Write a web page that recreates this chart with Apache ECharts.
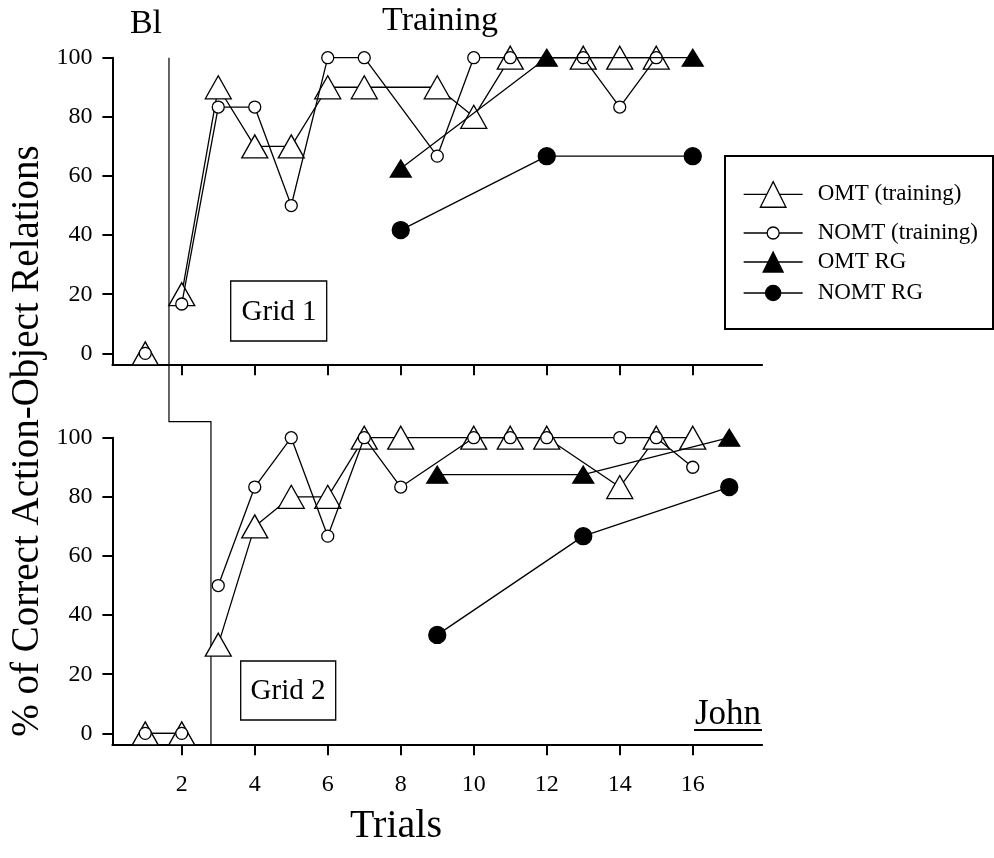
<!DOCTYPE html>
<html>
<head>
<meta charset="utf-8">
<script src="https://cdn.jsdelivr.net/npm/echarts@6/dist/echarts.min.js"></script>
<style>
  html, body { margin: 0; padding: 0; background: #fff; }
  #chart { width: 994px; height: 858px; }
</style>
</head>
<body>
<div id="chart"></div>
<script>
const FONT = "'Liberation Serif', 'Times New Roman', Times, serif";

// Grid 1 (upper panel)
const grid1OmtTrials = [1, 2, 3, 4, 5, 6, 7, 9, 10, 11, 13, 14, 15];
const grid1OmtValues = [0, 20, 90, 70, 70, 90, 90, 90, 80, 100, 100, 100, 100];
const grid1NomtTrials = [1, 2, 3, 4, 5, 6, 7, 9, 10, 11, 13, 14, 15];
const grid1NomtValues = [0, 16.7, 83.3, 83.3, 50, 100, 100, 66.7, 100, 100, 100, 83.3, 100];
const grid1RgTrials = [8, 12, 16];
const grid1OmtRgValues = [62.5, 100, 100];
const grid1NomtRgValues = [41.7, 66.7, 66.7];
const grid1PhaseChange = 1.65;

// Grid 2 (lower panel)
const grid2OmtTrials = [1, 2, 3, 4, 5, 6, 7, 8, 10, 11, 12, 14, 15, 16];
const grid2OmtValues = [0, 0, 30, 70, 80, 80, 100, 100, 100, 100, 100, 83.3, 100, 100];
const grid2NomtTrials = [1, 2, 3, 4, 5, 6, 7, 8, 10, 11, 12, 14, 15, 16];
const grid2NomtValues = [0, 0, 50, 83.3, 100, 66.7, 100, 83.3, 100, 100, 100, 100, 100, 90];
const grid2RgTrials = [9, 13, 17];
const grid2OmtRgValues = [87.5, 87.5, 100];
const grid2NomtRgValues = [33.3, 66.7, 83.3];
const grid2PhaseChange = 2.8;

// Axes
const xTicks = [2, 4, 6, 8, 10, 12, 14, 16];
const yTicks = [0, 20, 40, 60, 80, 100];
const xRange = [0.1, 17.9];
const yRange = [-3.7, 100];

// Pair trials with values; break the line where the phase changes.
function toPoints(trials, values, phase) {
  const out = [];
  for (let i = 0; i < trials.length; i++) {
    if (phase != null && i > 0 && trials[i - 1] < phase && trials[i] > phase) {
      out.push([phase, '-']);
    }
    out.push([trials[i], values[i]]);
  }
  return out;
}

const STYLE = {
  'OMT (training)': { symbol: 'triangle', size: [26, 23], fill: '#fff', z: 2 },
  'NOMT (training)': { symbol: 'circle', size: 12, fill: '#fff', z: 3 },
  'OMT RG': { symbol: 'triangle', size: [21, 17], fill: '#000', z: 4 },
  'NOMT RG': { symbol: 'circle', size: 17, fill: '#000', z: 5 }
};

function lineSeries(name, data, gi) {
  const s = STYLE[name];
  return {
    type: 'line', name, data,
    xAxisIndex: gi, yAxisIndex: gi,
    symbol: s.symbol, symbolSize: s.size, showAllSymbol: true,
    connectNulls: false, clip: false, z: s.z,
    lineStyle: { color: '#000', width: 1.3 },
    itemStyle: { color: s.fill, borderColor: '#000', borderWidth: 1.3, opacity: 1 },
    emphasis: { disabled: true },
    animation: false
  };
}

const series = [
  lineSeries('OMT (training)', toPoints(grid1OmtTrials, grid1OmtValues, grid1PhaseChange), 0),
  lineSeries('NOMT (training)', toPoints(grid1NomtTrials, grid1NomtValues, grid1PhaseChange), 0),
  lineSeries('OMT RG', toPoints(grid1RgTrials, grid1OmtRgValues, null), 0),
  lineSeries('NOMT RG', toPoints(grid1RgTrials, grid1NomtRgValues, null), 0),
  lineSeries('OMT (training)', toPoints(grid2OmtTrials, grid2OmtValues, grid2PhaseChange), 1),
  lineSeries('NOMT (training)', toPoints(grid2NomtTrials, grid2NomtValues, grid2PhaseChange), 1),
  lineSeries('OMT RG', toPoints(grid2RgTrials, grid2OmtRgValues, null), 1),
  lineSeries('NOMT RG', toPoints(grid2RgTrials, grid2NomtRgValues, null), 1)
];

function xAxis(gi) {
  return {
    type: 'value', gridIndex: gi, min: xRange[0], max: xRange[1],
    axisLine: { show: true, onZero: false, lineStyle: { color: '#000', width: 2 } },
    axisTick: { show: true, length: 11, customValues: xTicks, lineStyle: { color: '#000', width: 2 } },
    axisLabel: { show: gi === 1, customValues: xTicks, margin: 28, color: '#000', fontSize: 24, fontFamily: FONT },
    splitLine: { show: false }
  };
}
function yAxis(gi) {
  return {
    type: 'value', gridIndex: gi, min: yRange[0], max: yRange[1],
    axisLine: { show: true, onZero: false, lineStyle: { color: '#000', width: 2 } },
    axisTick: { show: true, length: 10, customValues: yTicks, lineStyle: { color: '#000', width: 2 } },
    axisLabel: { customValues: yTicks, margin: 20, color: '#000', fontSize: 24, fontFamily: FONT },
    splitLine: { show: false }
  };
}

// One legend block per row so each row keeps its own marker size.
const LEGEND_FONT = 23;
const legendRows = [
  { name: 'OMT (training)', cy: 197, h: 32 },
  { name: 'NOMT (training)', cy: 233, h: 15 },
  { name: 'OMT RG', cy: 263, h: 25 },
  { name: 'NOMT RG', cy: 293, h: 19 }
];
const legends = legendRows.map(r => ({
  data: [r.name], left: 743, top: r.cy - Math.max(r.h, LEGEND_FONT) / 2, padding: 0,
  itemWidth: 59, itemHeight: r.h, orient: 'vertical',
  itemStyle: { borderColor: '#000', borderWidth: 1.3 },
  lineStyle: { color: '#000', width: 1.3 },
  textStyle: { color: '#000', fontSize: LEGEND_FONT, fontFamily: FONT, padding: [0, 0, 0, 10] }
}));

const chart = echarts.init(document.getElementById('chart'), null, { renderer: 'canvas' });
chart.setOption({
  backgroundColor: '#fff',
  animation: false,
  grid: [
    { left: 112.4, top: 57.7, width: 649.7, height: 306.6 },
    { left: 112.4, top: 437.7, width: 649.7, height: 306.6 }
  ],
  xAxis: [xAxis(0), xAxis(1)],
  yAxis: [yAxis(0), yAxis(1)],
  legend: legends,
  series
});

// Phase-change line running through both panels.
const pTop = chart.convertToPixel({ gridIndex: 0 }, [grid1PhaseChange, 100]);
const pBotTop = chart.convertToPixel({ gridIndex: 1 }, [grid2PhaseChange, 100]);
const pBot = chart.convertToPixel({ gridIndex: 1 }, [grid2PhaseChange, yRange[0]]);
const stepY = pBotTop[1] - 16;

const textStyle = (text, x, y, size, extra) => Object.assign({
  text, x, y, fill: '#000', font: size + 'px ' + FONT, align: 'center', verticalAlign: 'middle'
}, extra || {});

chart.setOption({
  graphic: [
    { type: 'polyline', silent: true, z: 1,
      shape: { points: [[pTop[0], pTop[1]], [pTop[0], stepY], [pBot[0], stepY], [pBot[0], pBot[1]]] },
      style: { stroke: '#000', lineWidth: 1.2, fill: null } },
    { type: 'rect', silent: true, shape: { x: 230.7, y: 281, width: 96, height: 60 },
      style: { fill: '#fff', stroke: '#000', lineWidth: 1.3 } },
    { type: 'text', silent: true, style: textStyle('Grid 1', 279, 312, 29) },
    { type: 'rect', silent: true, shape: { x: 240.7, y: 661, width: 95, height: 59 },
      style: { fill: '#fff', stroke: '#000', lineWidth: 1.3 } },
    { type: 'text', silent: true, style: textStyle('Grid 2', 288, 691, 29) },
    { type: 'text', silent: true, style: textStyle('Bl', 146, 24, 34) },
    { type: 'text', silent: true, style: textStyle('Training', 440, 21, 34) },
    { type: 'text', silent: true, style: textStyle('John', 728, 715, 35) },
    { type: 'line', silent: true, shape: { x1: 694, y1: 730, x2: 762, y2: 730 },
      style: { stroke: '#000', lineWidth: 2 } },
    { type: 'text', silent: true, style: textStyle('Trials', 396, 826, 40) },
    { type: 'text', silent: true, x: 28, y: 441, rotation: Math.PI / 2,
      style: textStyle('% of Correct Action-Object Relations', 0, 0, 39) },
    { type: 'rect', silent: true, z: -1, shape: { x: 725, y: 156, width: 268, height: 173 },
      style: { fill: '#fff', stroke: '#000', lineWidth: 2 } }
  ]
});
</script>
</body>
</html>
